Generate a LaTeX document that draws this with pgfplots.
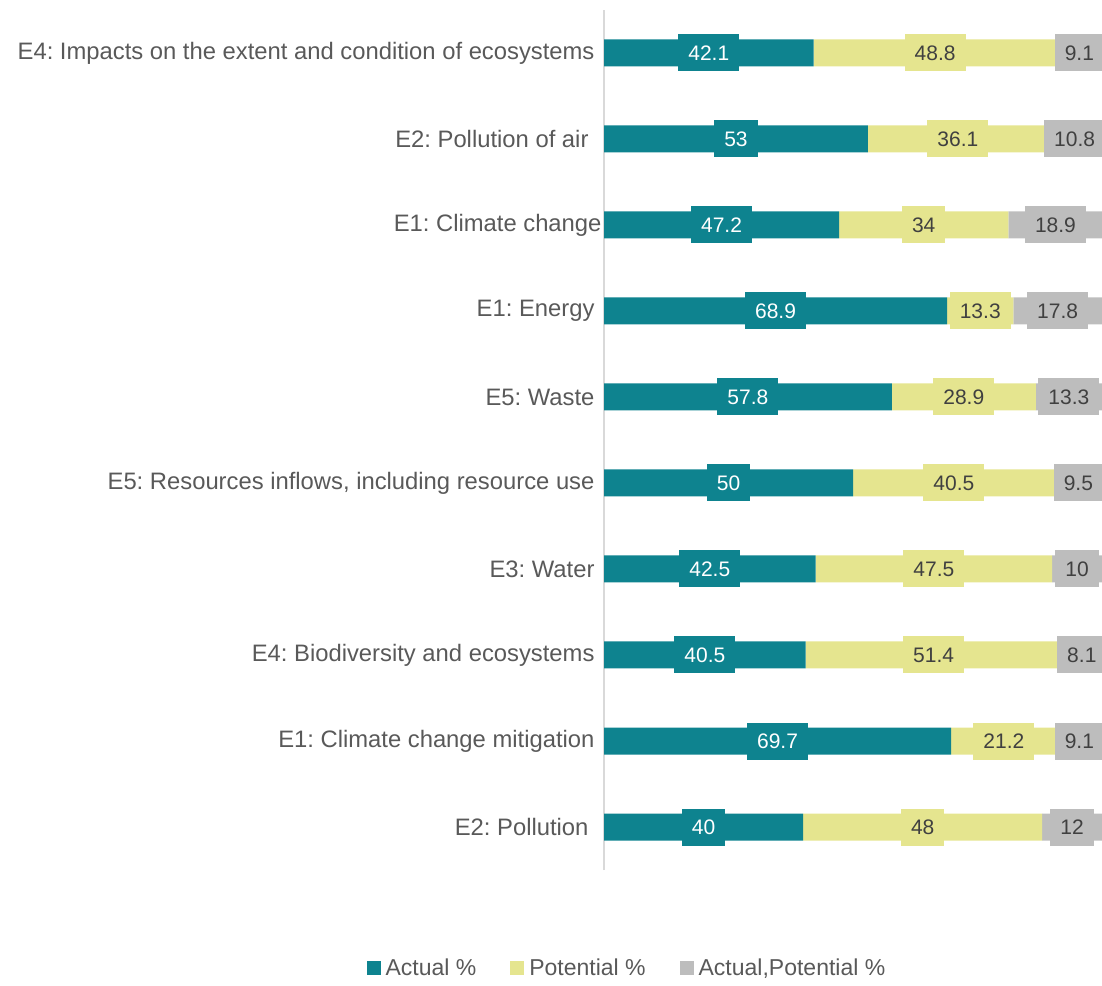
\documentclass[border=0pt]{standalone}
\usepackage{pgfplots}
\pgfplotsset{compat=1.18}
\usepackage{pgfplotstable}
\usepackage{fontspec}
\setmainfont{Liberation Sans}
\frenchspacing
\definecolor{cA}{HTML}{0E838F}
\definecolor{cP}{HTML}{E5E58F}
\definecolor{cG}{HTML}{BDBDBD}
\definecolor{txt}{HTML}{595959}
\definecolor{dtxt}{HTML}{404040}
\definecolor{axl}{HTML}{D9D9D9}
\pgfplotstableread[col sep=comma]{
idx,a,p,g
0,40,48,12
1,69.7,21.2,9.1
2,40.5,51.4,8.1
3,42.5,47.5,10
4,50,40.5,9.5
5,57.8,28.9,13.3
6,68.9,13.3,17.8
7,47.2,34,18.9
8,53,36.1,10.8
9,42.1,48.8,9.1
}\data
\begin{document}
\begin{tikzpicture}
\path[use as bounding box] (0,0) rectangle (1102pt,985pt);
\begin{axis}[
  at={(604pt,115pt)}, anchor=south west,
  scale only axis, width=498pt, height=860pt,
  xbar stacked, bar width=27pt,
  xmin=0, xmax=100, ymin=-0.5, ymax=9.5,
  clip=false,
  axis lines*=left,
  x axis line style={draw=none},
  y axis line style={draw=axl, line width=1.5pt},
  xtick=\empty,
  ytick={0,...,9},
  yticklabels={{E2: Pollution\kern6pt},{E1: Climate change mitigation},{E4: Biodiversity and ecosystems},{E3: Water},{E5: Resources inflows, including resource use},{E5: Waste},{E1: Energy},{E1: Climate change\kern-7pt},{E2: Pollution of air\kern6pt},{E4: Impacts on the extent and condition of ecosystems}},
  major tick length=0pt,
  yticklabel style={font=\fontsize{23.8}{28}\selectfont, text=txt, xshift=-6pt},
  legend columns=3,
  legend style={at={(0.046,-0.114)}, anchor=center, draw=none, fill=none,
    font=\fontsize{23}{27}\selectfont, text=txt,
    /tikz/every even column/.append style={column sep=32pt}},
  legend image code/.code={\fill[#1] (0pt,-7pt) rectangle (14pt,7pt);},
  nodes near coords,
  point meta=explicit symbolic,
  nodes near coords style={font=\fontsize{21}{25}\selectfont, anchor=center, minimum height=37pt, inner xsep=10pt},
]
\addplot[fill=cA, draw=none,
  every node near coord/.append style={fill=cA, text=white}]
  table[x=a, y=idx, meta=a]{\data};
\addlegendentry{\kern3pt Actual \%}
\addplot[fill=cP, draw=none,
  every node near coord/.append style={fill=cP, text=dtxt}]
  table[x=p, y=idx, meta=p]{\data};
\addlegendentry{\kern3pt Potential \%}
\addplot[fill=cG, draw=none,
  every node near coord/.append style={fill=cG, text=dtxt}]
  table[x=g, y=idx, meta=g]{\data};
\addlegendentry{\kern3pt Actual,Potential \%}
\end{axis}
\end{tikzpicture}
\end{document}
